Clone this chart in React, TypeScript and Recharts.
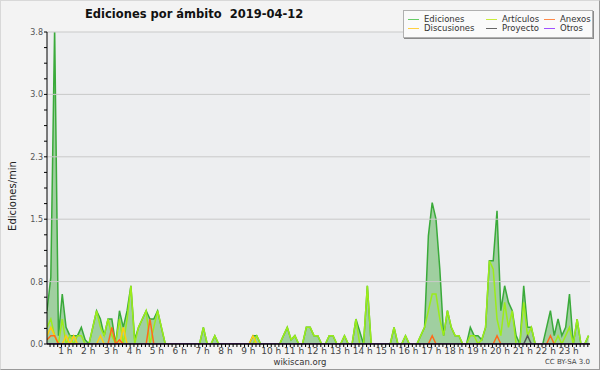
import { Area, CartesianGrid, ComposedChart, Line, ReferenceLine, XAxis, YAxis } from "recharts";

// one sample every 10 min, first one at ~00:12
const START_H = 0.2;
const STEP_H = 1 / 6;

const ediciones = [
  0.4, 0.8, 3.8, 0.1, 0.6, 0.2, 0.1, 0.1, 0.1, 0.2, 0.05, 0,
  0.2, 0.4, 0.3, 0.1, 0.3, 0.3, 0, 0.4, 0.2, 0.4, 0.7, 0.05,
  0.2, 0.3, 0.4, 0.3, 0.3, 0.4, 0.2, 0, 0, 0, 0, 0,
  0, 0, 0, 0, 0, 0.2, 0, 0, 0.1, 0, 0, 0,
  0, 0, 0, 0, 0, 0, 0.1, 0.1, 0, 0, 0, 0,
  0, 0, 0.1, 0.2, 0.05, 0.1, 0, 0, 0.2, 0.2, 0.1, 0.1,
  0, 0, 0.1, 0.1, 0, 0, 0.1, 0, 0, 0.3, 0.15, 0,
  0.7, 0, 0, 0, 0, 0, 0, 0.2, 0, 0, 0.1, 0,
  0, 0, 0.1, 0.2, 1.3, 1.7, 1.5, 0.9, 0.1, 0.4, 0.2, 0.1,
  0.1, 0, 0, 0.2, 0.1, 0.1, 0.05, 0.2, 1.0, 1.0, 1.6, 0.4,
  0.7, 0.5, 0.4, 0.1, 0, 0.7, 0.2, 0.2, 0, 0, 0, 0.2,
  0.4, 0.1, 0.3, 0.1, 0.2, 0.6, 0, 0.3, 0, 0, 0.1,
];

const articulos = [
  0.2, 0.3, 0.1, 0, 0.3, 0, 0.1, 0, 0.1, 0.1, 0, 0,
  0.2, 0.4, 0.2, 0.1, 0.3, 0.1, 0, 0.3, 0, 0.3, 0.7, 0,
  0.2, 0.3, 0.4, 0, 0.2, 0.4, 0.2, 0, 0, 0, 0, 0,
  0, 0, 0, 0, 0, 0.2, 0, 0, 0.1, 0, 0, 0,
  0, 0, 0, 0, 0, 0, 0, 0.1, 0, 0, 0, 0,
  0, 0, 0.1, 0.2, 0.05, 0.1, 0, 0, 0.2, 0.2, 0.1, 0.1,
  0, 0, 0.1, 0.1, 0, 0, 0.1, 0, 0, 0.3, 0, 0,
  0.7, 0, 0, 0, 0, 0, 0, 0.2, 0, 0, 0.1, 0,
  0, 0, 0.1, 0.2, 0.4, 0.6, 0.6, 0.3, 0.1, 0.4, 0.2, 0.1,
  0.1, 0, 0, 0.1, 0.1, 0, 0.05, 0.2, 1.0, 0.9, 0.3, 0.1,
  0.5, 0.2, 0.4, 0, 0, 0.5, 0.1, 0.2, 0, 0, 0, 0,
  0, 0, 0.1, 0, 0.1, 0.2, 0, 0.3, 0, 0, 0.1,
];

const discusiones = [
  0.1, 0.2, 0.1, 0, 0, 0.1, 0, 0.1, 0, 0, 0, 0,
  0, 0, 0.1, 0, 0, 0, 0, 0, 0.2, 0, 0, 0,
  0, 0, 0, 0, 0, 0, 0, 0, 0, 0, 0, 0,
  0, 0, 0, 0, 0, 0, 0, 0, 0, 0, 0, 0,
  0, 0, 0, 0, 0, 0, 0.1, 0, 0, 0, 0, 0,
  0, 0, 0, 0, 0, 0, 0, 0, 0, 0, 0, 0,
  0, 0, 0, 0, 0, 0, 0, 0, 0, 0, 0, 0,
  0, 0, 0, 0, 0, 0, 0, 0, 0, 0, 0, 0,
  0, 0, 0, 0, 0, 0, 0, 0, 0, 0, 0, 0,
  0, 0, 0, 0, 0, 0, 0, 0, 0, 0, 0, 0,
  0, 0, 0, 0, 0, 0, 0, 0, 0, 0, 0, 0,
  0, 0, 0, 0, 0, 0, 0, 0, 0, 0, 0,
];

const anexos = [
  0.05, 0.1, 0.1, 0, 0, 0, 0, 0, 0, 0, 0, 0,
  0, 0, 0, 0, 0, 0.2, 0, 0.05, 0, 0, 0, 0,
  0, 0, 0, 0.3, 0, 0, 0, 0, 0, 0, 0, 0,
  0, 0, 0, 0, 0, 0, 0, 0, 0, 0, 0, 0,
  0, 0, 0, 0, 0, 0, 0, 0, 0, 0, 0, 0,
  0, 0, 0, 0, 0, 0, 0, 0, 0, 0, 0, 0,
  0, 0, 0, 0, 0, 0, 0, 0, 0, 0, 0, 0,
  0, 0, 0, 0, 0, 0, 0, 0, 0, 0, 0, 0,
  0, 0, 0, 0, 0, 0.1, 0, 0, 0, 0, 0, 0,
  0, 0, 0, 0, 0, 0, 0, 0, 0, 0, 0.1, 0,
  0, 0, 0, 0, 0, 0, 0, 0, 0, 0, 0, 0,
  0.1, 0, 0, 0, 0, 0, 0, 0, 0, 0, 0,
];

const proyecto = [
  0, 0, 0, 0, 0, 0, 0, 0, 0, 0, 0, 0,
  0, 0, 0, 0, 0, 0, 0, 0, 0, 0, 0, 0,
  0, 0, 0, 0, 0, 0, 0, 0, 0, 0, 0, 0,
  0, 0, 0, 0, 0, 0, 0, 0, 0, 0, 0, 0,
  0, 0, 0, 0, 0, 0, 0, 0, 0, 0, 0, 0,
  0, 0, 0, 0, 0, 0, 0, 0, 0, 0, 0, 0,
  0, 0, 0, 0, 0, 0, 0, 0, 0, 0, 0, 0,
  0, 0, 0, 0, 0, 0, 0, 0, 0, 0, 0, 0,
  0, 0, 0, 0, 0, 0, 0, 0, 0, 0, 0, 0,
  0, 0, 0, 0, 0, 0, 0, 0, 0, 0, 0, 0,
  0, 0, 0, 0, 0, 0, 0.1, 0, 0, 0, 0, 0,
  0, 0, 0, 0, 0, 0, 0, 0, 0, 0, 0,
];

const otros = [
  0, 0, 0, 0, 0, 0, 0, 0, 0, 0, 0, 0,
  0, 0, 0, 0, 0, 0, 0, 0, 0, 0, 0, 0,
  0, 0, 0, 0, 0, 0, 0, 0, 0, 0, 0, 0,
  0, 0, 0, 0, 0, 0, 0, 0, 0, 0, 0, 0,
  0, 0, 0, 0, 0, 0, 0, 0, 0, 0, 0, 0,
  0, 0, 0, 0, 0, 0, 0, 0, 0, 0, 0, 0,
  0, 0, 0, 0, 0, 0, 0, 0, 0, 0, 0, 0,
  0, 0, 0, 0, 0, 0, 0, 0, 0, 0, 0, 0,
  0, 0, 0, 0, 0, 0, 0, 0, 0, 0, 0, 0,
  0, 0, 0, 0, 0, 0, 0, 0, 0, 0, 0, 0,
  0, 0, 0, 0, 0, 0, 0, 0, 0, 0, 0, 0,
  0, 0, 0, 0, 0, 0, 0, 0, 0, 0, 0,
];

const Y_TICKS = [
  0, 0.1875, 0.375, 0.5625, 0.75, 0.9375, 1.125, 1.3125, 1.5, 1.6875, 1.875,
  2.0625, 2.25, 2.4375, 2.625, 2.8125, 3, 3.1875, 3.375, 3.5625, 3.75,
];
const Y_GRID = [0.75, 1.5, 2.25, 3, 3.75];
const X_DOMAIN = [0.2, 23.93];
// minor ticks every 10 min, labels on the hour
const X_TICKS = Array.from({ length: 142 }, (_, k) => (k + 2) / 6);

const LINES = [
  { key: "art", name: "Artículos", color: "#9cec1a" },
  { key: "dis", name: "Discusiones", color: "#ffcc11" },
  { key: "anx", name: "Anexos", color: "#ff6a1a" },
  { key: "pro", name: "Proyecto", color: "#555555" },
  { key: "otr", name: "Otros", color: "#9933ff" },
];

const LEGEND = [
  { name: "Ediciones", swatch: "#66cc66" },
  { name: "Artículos", swatch: "#c8ec3a" },
  { name: "Anexos", swatch: "#ff8a4a" },
  { name: "Discusiones", swatch: "#ffd040" },
  { name: "Proyecto", swatch: "#666666" },
  { name: "Otros", swatch: "#a050ff" },
];

const data = ediciones.map((v, i) => ({
  h: START_H + i * STEP_H,
  ed: v,
  art: articulos[i],
  dis: discusiones[i],
  anx: anexos[i],
  pro: proyecto[i],
  otr: otros[i],
}));

const FONT = "'DejaVu Sans', sans-serif";

function XTick({ x, y, payload }: any) {
  const v = payload.value;
  const hour = Math.round(v);
  const major = Math.abs(v - hour) < 1e-6;
  return (
    <g>
      <line x1={x} x2={x} y1={y} y2={y + 3} stroke="#000" />
      {major && (
        <text x={x} y={y + 10} textAnchor="middle" fontSize={9} fill="#444" fontFamily={FONT}>
          {hour} h
        </text>
      )}
    </g>
  );
}

function YTick({ x, y, payload }: any) {
  const v = payload.value;
  const major = Math.abs(v / 0.75 - Math.round(v / 0.75)) < 1e-6;
  return (
    <g>
      <line x1={x - 3} x2={x} y1={y} y2={y} stroke="#000" />
      {major && (
        <text x={x - 4} y={y + 3} textAnchor="end" fontSize={8} fill="#555" fontFamily={FONT}>
          {v.toFixed(1)}
        </text>
      )}
    </g>
  );
}

export default function App() {
  return (
    <div style={{ position: "absolute", left: 0, top: 0, width: 600, height: 370, background: "#f3f3f3", fontFamily: FONT }}>
      <ComposedChart
        width={600}
        height={370}
        data={data}
        margin={{ top: 32, right: 10, bottom: 10, left: 17 }}
      >
        <CartesianGrid fill="#edeef0" horizontal={false} vertical={false} />
        {Y_GRID.map((g) => (
          <ReferenceLine key={g} y={g} stroke="#c9c9c9" />
        ))}
        <XAxis
          type="number"
          dataKey="h"
          domain={X_DOMAIN}
          ticks={X_TICKS}
          interval={0}
          allowDataOverflow
          height={16}
          tickSize={0}
          tickMargin={0}
          tickLine={false}
          axisLine={{ stroke: "#000" }}
          tick={(p: any) => <XTick {...p} />}
        />
        <YAxis
          type="number"
          domain={[0, 3.75]}
          ticks={Y_TICKS}
          interval={0}
          allowDataOverflow
          width={30}
          tickSize={0}
          tickMargin={0}
          tickLine={false}
          axisLine={{ stroke: "#000" }}
          tick={(p: any) => <YTick {...p} />}
        />
        <Area
          type="linear"
          dataKey="ed"
          name="Ediciones"
          stroke="#3aaa3a"
          strokeWidth={1.5}
          fill="#a0cfa0"
          fillOpacity={1}
          dot={false}
          isAnimationActive={false}
        />
        {LINES.map((s) => (
          <Line
            key={s.key}
            type="linear"
            dataKey={s.key}
            name={s.name}
            stroke={s.color}
            strokeWidth={1.5}
            dot={false}
            isAnimationActive={false}
          />
        ))}
        <ReferenceLine y={0} stroke="#000" />
      </ComposedChart>

      <div style={{ position: "absolute", left: 85, top: 7, fontSize: 11.5, fontWeight: "bold", color: "#111", whiteSpace: "pre" }}>
        {"Ediciones por ámbito  2019-04-12"}
      </div>

      <div
        style={{
          position: "absolute",
          left: 12,
          top: 196,
          transform: "translate(-50%, -50%) rotate(-90deg)",
          fontSize: 10,
          color: "#222",
          whiteSpace: "nowrap",
        }}
      >
        Ediciones/min
      </div>

      <div
        style={{
          position: "absolute",
          left: 403,
          top: 10,
          width: 190,
          height: 28,
          boxSizing: "border-box",
          background: "#fafafa",
          border: "1px solid #b0b0b0",
          boxShadow: "1px 1px 0 #8a8a8a",
          display: "grid",
          gridTemplateColumns: "78px 58px 1fr",
          gridAutoRows: "9px",
          padding: "4px 0 0 4px",
          fontSize: 8.5,
          color: "#333",
        }}
      >
        {LEGEND.map((l) => (
          <div key={l.name} style={{ display: "flex", alignItems: "center", lineHeight: "9px" }}>
            <span style={{ display: "inline-block", width: 11, height: 1.5, background: l.swatch, marginRight: 5 }} />
            <span>{l.name}</span>
          </div>
        ))}
      </div>

      <div style={{ position: "absolute", left: 0, width: 600, top: 357, lineHeight: "10px", textAlign: "center", fontSize: 8.5, color: "#333" }}>
        wikiscan.org
      </div>
      <div style={{ position: "absolute", right: 10, top: 358, lineHeight: "9px", fontSize: 7, color: "#444" }}>CC BY-SA 3.0</div>

      <div
        style={{
          position: "absolute",
          inset: 0,
          boxSizing: "border-box",
          borderStyle: "solid",
          borderWidth: 1,
          borderColor: "#d8d8d8 #9a9a9a #9a9a9a #d8d8d8",
          pointerEvents: "none",
        }}
      />
    </div>
  );
}
